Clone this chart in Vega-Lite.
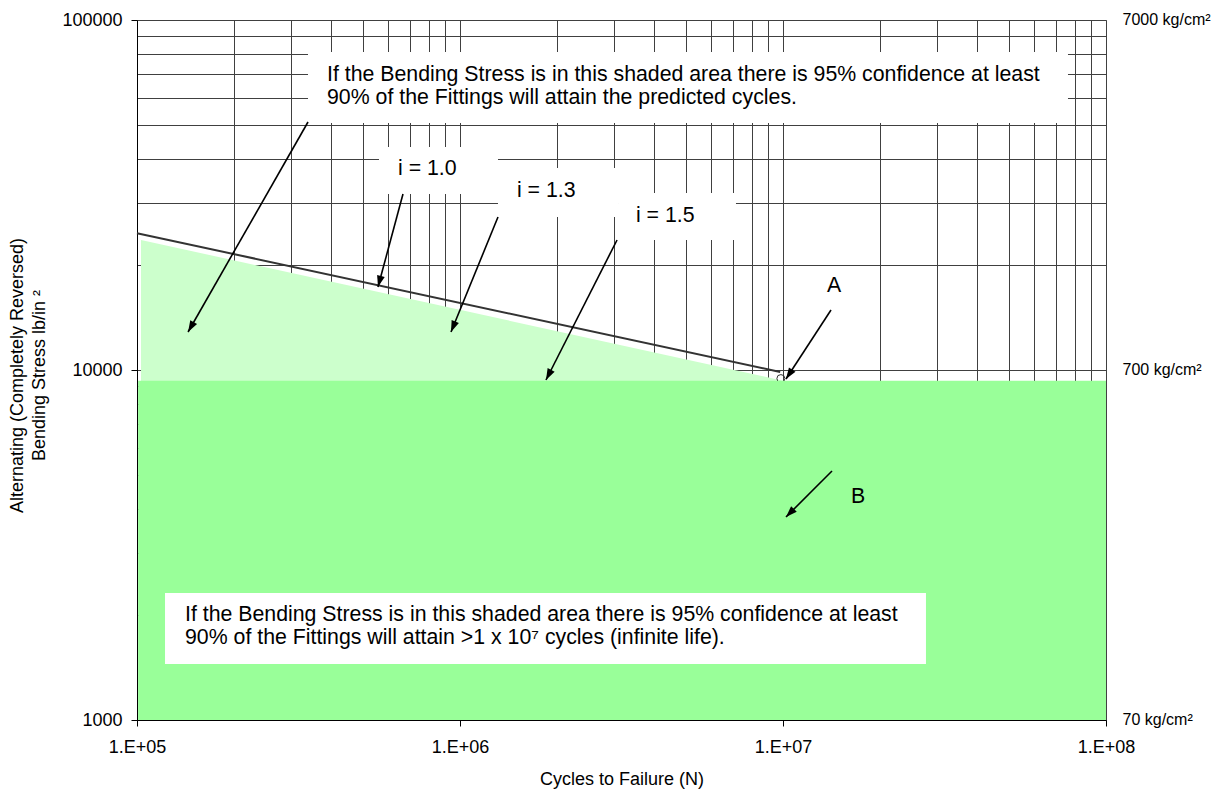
{
  "$schema": "https://vega.github.io/schema/vega-lite/v6.json",
  "width": 969,
  "height": 700,
  "autosize": {"type": "none"},
  "padding": {"left": 137, "top": 20, "right": 114, "bottom": 70},
  "background": "white",
  "config": {
    "font": "Liberation Sans",
    "view": {"stroke": "#808080", "strokeWidth": 1, "fill": "white"},
    "axis": {
      "labelFont": "Liberation Sans",
      "titleFont": "Liberation Sans",
      "labelColor": "black",
      "titleColor": "black",
      "titleFontWeight": "normal",
      "domainColor": "black",
      "tickColor": "black",
      "gridColor": "#404040",
      "gridWidth": 1
    }
  },
  "datasets": {
    "finite": [
      {"x": 102900, "y": 23520},
      {"x": 10000000, "y": 9320}
    ],
    "curve": [
      {"x": 100000, "y": 24600},
      {"x": 9800000, "y": 9870}
    ],
    "marker": [
      {"x": 9850000, "y": 9450}
    ],
    "infinite": [
      {"x": 100800, "x2": 100000000, "y": 1000, "y2": 9320}
    ],
    "boxes": [
      {"name": "top", "x": 338400, "x2": 76260000, "y": 50790, "y2": 81000},
      {"name": "i10", "x": 561300, "x2": 1311000, "y": 31830, "y2": 43360},
      {"name": "i13", "x": 1311000, "x2": 3085000, "y": 27360, "y2": 37770},
      {"name": "i15", "x": 3085000, "x2": 7152000, "y": 23520, "y2": 32040},
      {"name": "bottom", "x": 122100, "x2": 27710000, "y": 1445, "y2": 2306}
    ],
    "arrows": [
      {"id": 1, "x": 338400, "y": 51120, "x2": 143900, "y2": 12840},
      {"id": 2, "x": 666000, "y": 31830, "x2": 557300, "y2": 17260},
      {"id": 3, "x": 1311000, "y": 27360, "x2": 937800, "y2": 12840},
      {"id": 4, "x": 3063000, "y": 23520, "x2": 1846000, "y2": 9363},
      {"id": 5, "x": 14080000, "y": 14840, "x2": 10216000, "y2": 9425},
      {"id": 6, "x": 14180000, "y": 5146, "x2": 10216000, "y2": 3802}
    ],
    "notes": [
      {"x": 387500, "y": 66930, "label": "If the Bending Stress is in this shaded area there is 95% confidence at least\n90% of the Fittings will attain the predicted cycles."},
      {"x": 642700, "y": 36070, "label": "i = 1.0"},
      {"x": 1501000, "y": 31150, "label": "i = 1.3"},
      {"x": 3506000, "y": 26530, "label": "i = 1.5"},
      {"x": 13680000, "y": 16670, "label": "A"},
      {"x": 16240000, "y": 4169, "label": "B"},
      {"x": 140800, "y": 1918, "label": "If the Bending Stress is in this shaded area there is 95% confidence at least\n90% of the Fittings will attain >1 x 10⁷ cycles (infinite life)."}
    ]
  },
  "resolve": {"axis": {"y": "independent"}},
  "layer": [
    {
      "data": {"name": "finite"},
      "mark": {"type": "area", "color": "#ccffcc", "opacity": 1},
      "encoding": {
        "x": {
          "field": "x",
          "type": "quantitative",
          "scale": {"type": "log", "domain": [100000, 100000000], "nice": false},
          "axis": {
            "values": [100000, 200000, 300000, 400000, 500000, 600000, 700000, 800000, 900000, 1000000, 2000000, 3000000, 4000000, 5000000, 6000000, 7000000, 8000000, 9000000, 10000000, 20000000, 30000000, 40000000, 50000000, 60000000, 70000000, 80000000, 90000000, 100000000],
            "grid": true,
            "domain": true,
            "ticks": true,
            "tickSize": 6,
            "tickOpacity": {"condition": {"test": "datum.value == 100000 || datum.value == 1000000 || datum.value == 10000000 || datum.value == 100000000", "value": 1}, "value": 0},
            "labelExpr": "datum.value == 100000 ? '1.E+05' : datum.value == 1000000 ? '1.E+06' : datum.value == 10000000 ? '1.E+07' : datum.value == 100000000 ? '1.E+08' : ''",
            "labelFontSize": 18,
            "labelPadding": 12,
            "labelFlush": false,
            "labelOverlap": false,
            "title": "Cycles to Failure (N)",
            "titleFontSize": 18,
            "titleBaseline": "alphabetic",
            "titleY": 64
          }
        },
        "y": {
          "field": "y",
          "type": "quantitative",
          "scale": {"type": "log", "domain": [1000, 100000], "nice": false},
          "axis": {
            "orient": "left",
            "values": [1000, 2000, 3000, 4000, 5000, 6000, 7000, 8000, 9000, 10000, 20000, 30000, 40000, 50000, 60000, 70000, 80000, 90000, 100000],
            "grid": true,
            "domain": true,
            "ticks": true,
            "tickSize": 6,
            "tickOpacity": {"condition": {"test": "datum.value == 1000 || datum.value == 10000 || datum.value == 100000", "value": 1}, "value": 0},
            "labelExpr": "datum.value == 1000 || datum.value == 10000 || datum.value == 100000 ? '' + datum.value : ''",
            "labelFontSize": 18,
            "labelPadding": 9,
            "labelFlush": false,
            "labelOverlap": false,
            "title": ["Alternating (Completely Reversed)", "Bending Stress lb/in ²"],
            "titleFontSize": 18,
            "titleAngle": 270,
            "titleAlign": "center",
            "titleBaseline": "alphabetic",
            "titleLineHeight": 22,
            "titleX": -115,
            "titleY": 355
          }
        },
        "y2": {"datum": 1000}
      }
    },
    {
      "data": {"name": "curve"},
      "mark": {"type": "line", "color": "#333333", "strokeWidth": 2},
      "encoding": {
        "x": {"field": "x", "type": "quantitative"},
        "y": {"field": "y", "type": "quantitative", "axis": null}
      }
    },
    {
      "data": {"name": "marker"},
      "mark": {"type": "point", "shape": "circle", "filled": false, "stroke": "#333333", "strokeWidth": 1, "size": 64, "opacity": 1},
      "encoding": {
        "x": {"field": "x", "type": "quantitative"},
        "y": {"field": "y", "type": "quantitative", "axis": null}
      }
    },
    {
      "data": {"name": "infinite"},
      "mark": {"type": "rect", "color": "#99ff99", "opacity": 1},
      "encoding": {
        "x": {"field": "x", "type": "quantitative"},
        "x2": {"field": "x2"},
        "y": {
          "field": "y",
          "type": "quantitative",
          "axis": {
            "orient": "right",
            "values": [1000, 10000, 100000],
            "grid": false,
            "domain": false,
            "ticks": false,
            "labelExpr": "datum.value == 100000 ? '7000 kg/cm²' : datum.value == 10000 ? '700 kg/cm²' : '70 kg/cm²'",
            "labelFontSize": 16,
            "labelPadding": 16,
            "labelAlign": "left",
            "labelBaseline": "middle",
            "labelOffset": -1,
            "labelFlush": false,
            "labelOverlap": false,
            "title": null
          }
        },
        "y2": {"field": "y2"}
      }
    },
    {
      "data": {"name": "boxes"},
      "mark": {"type": "rect", "color": "white", "opacity": 1},
      "encoding": {
        "x": {"field": "x", "type": "quantitative"},
        "x2": {"field": "x2"},
        "y": {"field": "y", "type": "quantitative", "axis": null},
        "y2": {"field": "y2"}
      }
    },
    {
      "data": {"name": "arrows"},
      "mark": {"type": "rule", "color": "black", "strokeWidth": 1.6},
      "encoding": {
        "x": {"field": "x", "type": "quantitative"},
        "y": {"field": "y", "type": "quantitative", "axis": null},
        "x2": {"field": "x2"},
        "y2": {"field": "y2"}
      }
    },
    {
      "data": {"name": "arrows"},
      "transform": [{"filter": "datum.id == 1"}],
      "mark": {"type": "point", "shape": "M0,0L-0.9,2.6L0.9,2.6Z", "filled": true, "color": "black", "opacity": 1, "size": 76, "angle": 209.7},
      "encoding": {
        "x": {"field": "x2", "type": "quantitative"},
        "y": {"field": "y2", "type": "quantitative", "axis": null}
      }
    },
    {
      "data": {"name": "arrows"},
      "transform": [{"filter": "datum.id == 2"}],
      "mark": {"type": "point", "shape": "M0,0L-0.9,2.6L0.9,2.6Z", "filled": true, "color": "black", "opacity": 1, "size": 76, "angle": 195},
      "encoding": {
        "x": {"field": "x2", "type": "quantitative"},
        "y": {"field": "y2", "type": "quantitative", "axis": null}
      }
    },
    {
      "data": {"name": "arrows"},
      "transform": [{"filter": "datum.id == 3"}],
      "mark": {"type": "point", "shape": "M0,0L-0.9,2.6L0.9,2.6Z", "filled": true, "color": "black", "opacity": 1, "size": 76, "angle": 202.2},
      "encoding": {
        "x": {"field": "x2", "type": "quantitative"},
        "y": {"field": "y2", "type": "quantitative", "axis": null}
      }
    },
    {
      "data": {"name": "arrows"},
      "transform": [{"filter": "datum.id == 4"}],
      "mark": {"type": "point", "shape": "M0,0L-0.9,2.6L0.9,2.6Z", "filled": true, "color": "black", "opacity": 1, "size": 76, "angle": 206.9},
      "encoding": {
        "x": {"field": "x2", "type": "quantitative"},
        "y": {"field": "y2", "type": "quantitative", "axis": null}
      }
    },
    {
      "data": {"name": "arrows"},
      "transform": [{"filter": "datum.id == 5"}],
      "mark": {"type": "point", "shape": "M0,0L-0.9,2.6L0.9,2.6Z", "filled": true, "color": "black", "opacity": 1, "size": 76, "angle": 213.3},
      "encoding": {
        "x": {"field": "x2", "type": "quantitative"},
        "y": {"field": "y2", "type": "quantitative", "axis": null}
      }
    },
    {
      "data": {"name": "arrows"},
      "transform": [{"filter": "datum.id == 6"}],
      "mark": {"type": "point", "shape": "M0,0L-0.9,2.6L0.9,2.6Z", "filled": true, "color": "black", "opacity": 1, "size": 76, "angle": 224.4},
      "encoding": {
        "x": {"field": "x2", "type": "quantitative"},
        "y": {"field": "y2", "type": "quantitative", "axis": null}
      }
    },
    {
      "data": {"name": "notes"},
      "mark": {"type": "text", "align": "left", "baseline": "alphabetic", "fontSize": 21.3, "lineHeight": 23, "lineBreak": "\n", "color": "black", "font": "Liberation Sans"},
      "encoding": {
        "x": {"field": "x", "type": "quantitative"},
        "y": {"field": "y", "type": "quantitative", "axis": null},
        "text": {"field": "label", "type": "nominal"}
      }
    }
  ]
}
